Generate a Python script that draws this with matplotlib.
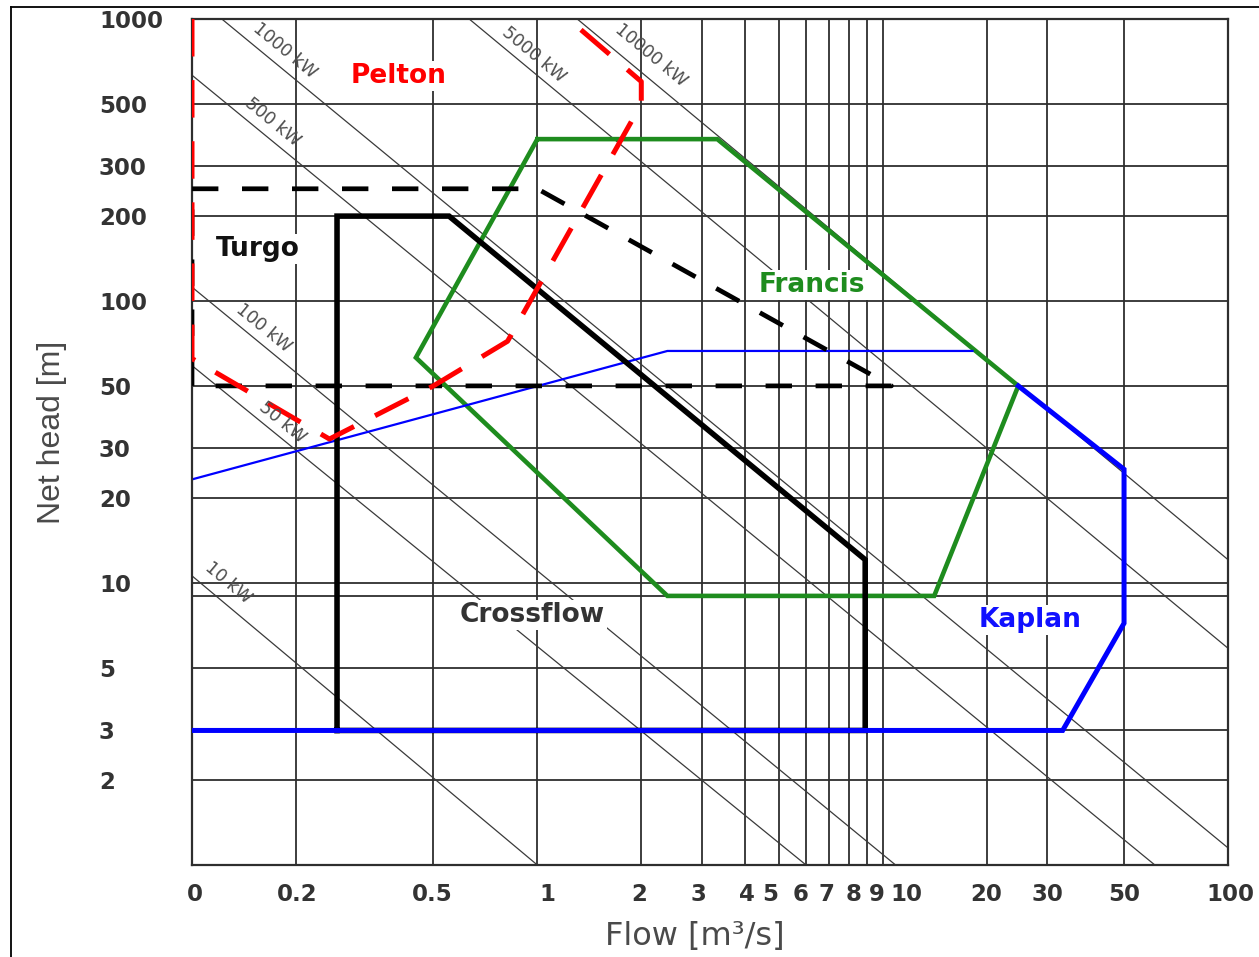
import math
import matplotlib
matplotlib.use('Agg')
import matplotlib.pyplot as plt
from matplotlib.lines import Line2D
from matplotlib.ticker import FixedLocator, NullLocator, NullFormatter
from matplotlib.transforms import ScaledTranslation

plt.rcParams['lines.scale_dashes'] = False

# axis ticks
flow_ticks = [0.1, 0.2, 0.5, 1, 2, 3, 4, 5, 6, 7, 8, 9, 10, 20, 30, 50, 100]
flow_labels = ['0', '0.2', '0.5', '1', '2', '3', '4', '5', '6', '7', '8', '9',
               '10', '20', '30', '50', '100']
head_ticks = [2, 3, 5, 10, 20, 30, 50, 100, 200, 300, 500, 1000]
head_labels = ['2', '3', '5', '10', '20', '30', '50', '100', '200', '300', '500', '1000']
head_extra = [9]

# turbine application ranges, flow [m3/s] / head [m]
pelton_q = [0.1, 0.1, 0.25, 0.5, 0.82, 2.0, 2.0, 1.23]
pelton_h = [1000, 62.5, 32.4, 50, 72, 500, 600, 1000]

turgo_q = [0.1, 1.0, 10.6, 0.1, 0.1]
turgo_h = [250, 250, 50, 50, 250]

crossflow_q = [0.263, 0.263, 0.555, 8.9, 8.9, 0.263]
crossflow_h = [3, 200, 200, 12.1, 3, 3]

francis_q = [1.0, 3.32, 24.7, 14.1, 2.38, 0.445, 1.0]
francis_h = [375, 375, 50, 9, 9, 63, 375]

kaplan_top_q = [0.1, 2.38, 18.2]
kaplan_top_h = [23.3, 66.5, 66.5]
kaplan_q = [24.7, 50, 50, 33.2, 0.1]
kaplan_h = [50, 25.3, 7.2, 3, 3]

# turbine names and where they are written
turbine_names = ['Pelton', 'Turgo', 'Francis', 'Crossflow', 'Kaplan']
turbine_label_q = [0.396, 0.155, 6.25, 0.968, 26.7]
turbine_label_h = [627, 153, 114, 7.7, 7.38]

# constant power lines (start and end points)
power_names = ['10 kW', '50 kW', '100 kW', '500 kW', '1000 kW', '5000 kW', '10000 kW']
power_q_start = [0.1, 0.1, 0.1, 0.1, 0.122, 0.635, 1.305]
power_h_start = [10.6, 59.0, 112, 632, 1000, 1000, 1000]
power_q_end = [1.0, 6.0, 10.9, 61.4, 100, 100, 100]
power_h_end = [1, 1, 1, 1, 1.15, 5.87, 12.1]
power_label_q = [0.127, 0.183, 0.161, 0.171, 0.186, 0.975, 2.13]
power_label_h = [10, 37, 80, 432, 771, 745, 745]

W, H = 1259, 957
fig = plt.figure(figsize=(W / 100, H / 100), dpi=100)
ax = fig.add_axes([192 / W, 92 / H, 1036 / W, 846 / H])
ax.set_xscale('log')
ax.set_yscale('log')
ax.set_xlim(0.1, 100)
ax.set_ylim(1, 1000)

# grid and frame
grid_col = '#2e2e2e'
ax.set_axisbelow(True)
ax.tick_params(which='both', length=0)
ax.tick_params(axis='x', pad=13)
ax.tick_params(axis='y', pad=67)
ax.set_xticks(flow_ticks, flow_labels, fontsize=16.5, fontweight='bold',
              color='#333333', family='DejaVu Sans')
ax.set_yticks(head_ticks, head_labels, fontsize=16.5, fontweight='bold',
              color='#333333', family='DejaVu Sans', ha='left')
ax.xaxis.set_minor_locator(NullLocator())
ax.yaxis.set_minor_locator(FixedLocator(head_extra))
ax.yaxis.set_minor_formatter(NullFormatter())
ax.grid(True, which='both', color=grid_col, lw=1.3)
for sp in ax.spines.values():
    sp.set_color(grid_col)
    sp.set_linewidth(1.6)

# squeezed labels between 1 and 10 sit a little off their grid lines
x_nudge_px = [3, 1, -1, 10, -2, -4, 2, -9, -5, -3, 4, 10, 24, 0, 0, 0, 2]
for tick, dx in zip(ax.xaxis.get_major_ticks(), x_nudge_px):
    off = ScaledTranslation(dx / 100, 0, fig.dpi_scale_trans)
    tick.label1.set_transform(tick.label1.get_transform() + off)

ax.set_xlabel('Flow [m³/s]', fontsize=23, color='#4a4a4a',
              family='DejaVu Sans', va='center')
ax.xaxis.set_label_coords((695 - 192) / 1036, (865 - 936) / 846)
ax.set_ylabel('Net head [m]', fontsize=23, color='#4a4a4a',
              family='Liberation Sans', va='center')
ax.yaxis.set_label_coords((52 - 192) / 1036, (865 - 432) / 846)


def line_angle(q0, h0, q1, h1):
    (x0, y0), (x1, y1) = ax.transData.transform([(q0, h0), (q1, h1)])
    return math.degrees(math.atan2(y1 - y0, x1 - x0))


# kW lines
for i, name in enumerate(power_names):
    ax.plot([power_q_start[i], power_q_end[i]], [power_h_start[i], power_h_end[i]],
            color='#3a3a3a', lw=0.9, zorder=1.5)
    ang = line_angle(power_q_start[i], power_h_start[i], power_q_end[i], power_h_end[i])
    ax.text(power_label_q[i], power_label_h[i], name, rotation=ang,
            rotation_mode='anchor', ha='center', va='center',
            fontsize=12.5, color='#4d4d4d', zorder=4)

# turbine outlines
ax.plot(francis_q, francis_h, color='#1e8c1e', lw=3.3, zorder=2,
        solid_joinstyle='miter')
ax.plot(kaplan_top_q, kaplan_top_h, color='#0000ff', lw=1.6, zorder=2.5)
ax.plot(crossflow_q, crossflow_h, color='black', lw=4, zorder=3,
        solid_joinstyle='miter')
ax.plot(turgo_q, turgo_h, color='black', lw=3.4, zorder=3.2,
        linestyle=(0, (19, 17)), dash_capstyle='butt')
ax.plot(pelton_q, pelton_h, color='#ff0000', lw=3.6, zorder=3.5,
        linestyle=(0, (27, 17)), dash_capstyle='butt')
ax.plot(kaplan_q, kaplan_h, color='#0000ff', lw=3.6, zorder=3.8,
        solid_joinstyle='miter')

turbine_colors = ['#ff0000', '#111111', '#1e8c1e', '#333333', '#1010ff']
for name, q, h, c in zip(turbine_names, turbine_label_q, turbine_label_h, turbine_colors):
    ax.text(q, h, name, ha='center', va='center', fontsize=19,
            fontweight='bold', color=c, family='DejaVu Sans', zorder=5,
            bbox=dict(facecolor='white', edgecolor='none', pad=1.5))

# page border on the left and top
fig.add_artist(Line2D([11 / W, 11 / W], [0, 1 - 7 / H], transform=fig.transFigure,
                      color='black', lw=1.3))
fig.add_artist(Line2D([11 / W, 1], [1 - 7 / H, 1 - 7 / H], transform=fig.transFigure,
                      color='black', lw=1.3))

fig.savefig('out.png', dpi=100)
